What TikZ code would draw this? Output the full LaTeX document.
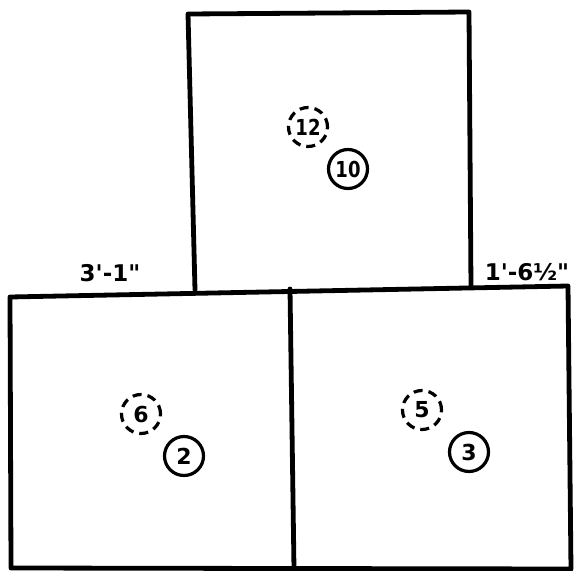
\documentclass[tikz,border=0pt]{standalone}
\usepackage{fontspec}
\setmainfont{DejaVu Sans}
\newfontfamily\dimfont{DejaVu Sans}
\begin{document}
\begin{tikzpicture}[x=1pt,y=-1pt,
  wall/.style={line width=4.8pt,line join=round,line cap=round},
  ringmark/.style={circle,draw,line width=3.2pt,minimum size=39pt,inner sep=0pt,font=\bfseries\fontsize{22}{22}\selectfont},
  hidden/.style={ringmark,dash pattern=on 9pt off 6pt},
  dim/.style={font=\dimfont\bfseries\fontsize{23}{23}\selectfont,inner sep=0pt}]
\useasboundingbox (0,0) rectangle (574,571);
% corners
\coordinate (t1) at (188,14);
\coordinate (t2) at (469,12);
\coordinate (t3) at (471,287);
\coordinate (t4) at (195,290);
\coordinate (b1) at (10,297);
\coordinate (b2) at (568,286);
\coordinate (b3) at (571,569);
\coordinate (b4) at (11,568);
\coordinate (m1) at (290,289);
\coordinate (m2) at (294,569);
% top square
\draw[wall] (t4) -- (t1) -- (t2) -- (t3);
% bottom rectangle
\draw[wall] (b1) -- (b2) -- (b3) -- (b4) -- cycle;
\draw[wall] (m1) -- (m2);
% marks
\node[hidden] (n12) at (308,127) {\scalebox{0.82}[1]{12}};
\node[ringmark] (n10) at (348,169) {\scalebox{0.82}[1]{10}};
\node[hidden] (n6) at (141,414) {6};
\node[ringmark] (n2) at (184,456) {2};
\node[hidden] (n5) at (422,410) {5};
\node[ringmark] (n3) at (469,452) {3};
% dimensions
\node[dim] (d1) at (110,273) {3'-1"};
\node[dim] (d2) at (527,272) {1'-6½"};
\end{tikzpicture}
\end{document}
